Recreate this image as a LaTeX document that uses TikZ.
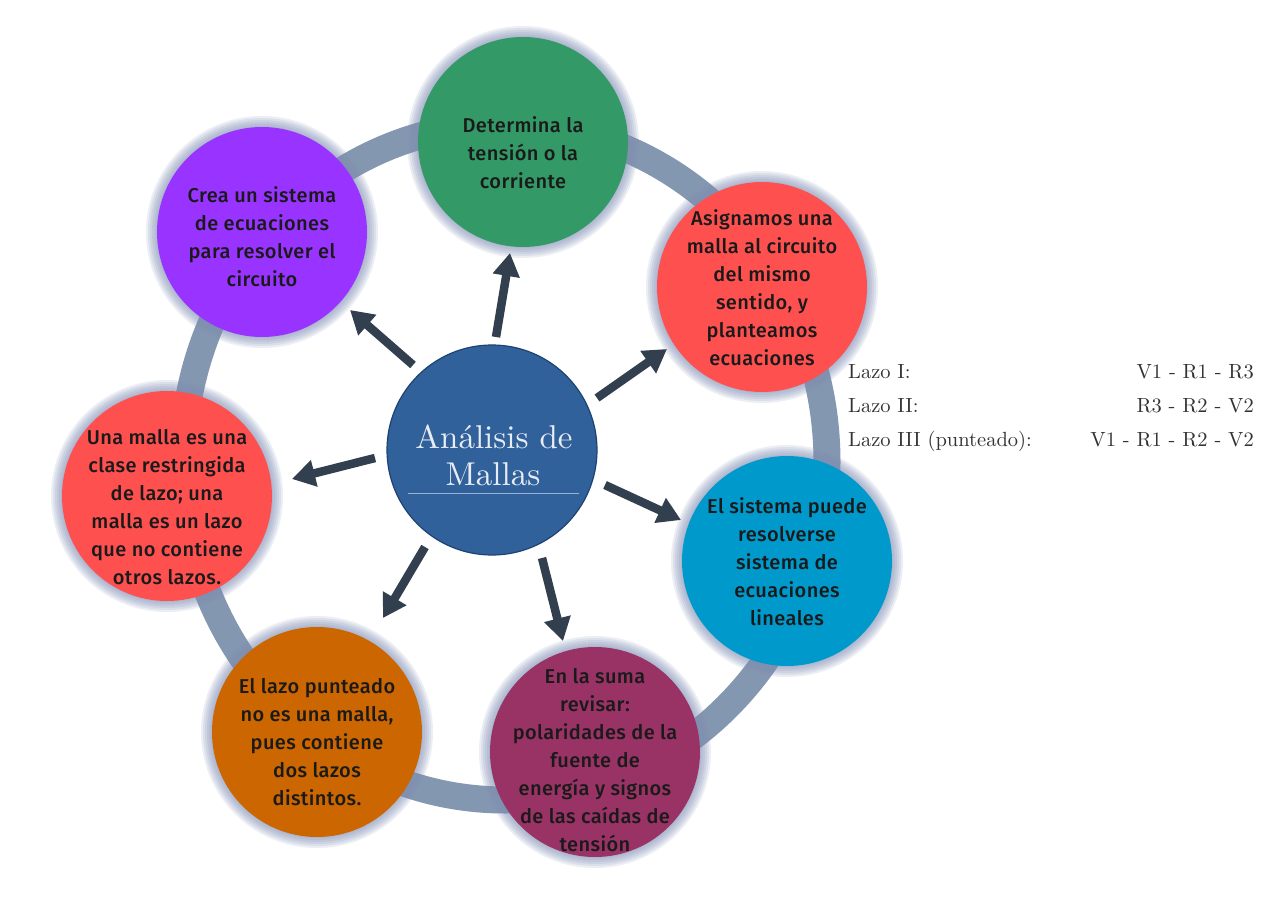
\documentclass[tikz,border=0pt]{standalone}
\usepackage{fontspec}
\newfontfamily\bubfont{Fira Sans Medium}[LetterSpace=2]
\newfontfamily\serfont{lmroman10-regular.otf}
\usetikzlibrary{arrows.meta,calc}
\definecolor{ringc}{HTML}{8497B0}
\definecolor{haloc}{HTML}{7F8DB5}
\definecolor{arrc}{HTML}{323F4F}
\definecolor{cgreen}{HTML}{339966}
\definecolor{cpurple}{HTML}{9933FF}
\definecolor{cred}{HTML}{FF5050}
\definecolor{cblue}{HTML}{0099CC}
\definecolor{corange}{HTML}{CC6600}
\definecolor{cmaroon}{HTML}{993366}
\definecolor{cin}{HTML}{30619A}
\definecolor{cmid}{HTML}{2A5690}
\definecolor{cout}{HTML}{1E4272}
\definecolor{ctxt}{HTML}{E8ECF4}
\definecolor{cline}{HTML}{9DB3D3}
\definecolor{btxt}{HTML}{1A1A1A}
\definecolor{ltxt}{HTML}{333333}
\pgfdeclareradialshading{cshade}{\pgfpoint{0bp}{0bp}}{color(0bp)=(cin); color(40bp)=(cin); color(47bp)=(cmid); color(50bp)=(cout)}
\tikzset{
  bubble/.style={circle, minimum size=210pt, inner sep=0pt, fill=#1},
  bubtext/.style={align=center, inner sep=0pt, text=btxt, font=\bubfont\fontsize{20}{28}\selectfont},
  arr/.style={draw=arrc, line width=8.5pt, -{Triangle[length=23pt, width=26pt]}},
  ctext/.style={text=ctxt, inner sep=0pt, font=\serfont\fontsize{33}{37}\selectfont},
  ltext/.style={text=ltxt, inner sep=0pt, font=\serfont\fontsize{20.5}{24}\selectfont},
}
\begin{document}
\begin{tikzpicture}[x=1pt,y=-1pt]
\useasboundingbox (0,0) rectangle (1280,905);
\fill[white] (0,0) rectangle (1280,905);
% ring
\draw[ringc, line width=27pt] (505,462) ellipse [x radius=322pt, y radius=338pt];
% positions
\coordinate (pg) at (523,142);
\coordinate (pp) at (262,232);
\coordinate (prr) at (762,287);
\coordinate (prl) at (167,496);
\coordinate (pb) at (787,561);
\coordinate (po) at (317,732);
\coordinate (pm) at (595,752);
% halos
\foreach \n in {pg,pp,prr,prl,pb,po,pm}{
  \foreach \i in {1,...,6}{
    \fill[haloc, opacity=0.15] (\n) circle [radius={104pt+2pt*\i}];
  }
}
% bubbles
\node[bubble=cgreen] (g) at (pg) {};
\node[bubble=cpurple] (p) at (pp) {};
\node[bubble=cred] (rr) at (prr) {};
\node[bubble=cred] (rl) at (prl) {};
\node[bubble=cblue] (b) at (pb) {};
\node[bubble=corange] (o) at (po) {};
\node[bubble=cmaroon] (m) at (pm) {};
% bubble texts
\node[bubtext] (gt) at ($(g)+(0,11)$) {Determina la\\tensión o la\\corriente};
\node[bubtext] (pt) at ($(p)+(0,5)$) {Crea un sistema\\de ecuaciones\\para resolver el\\circuito};
\node[bubtext] (rrt) at ($(rr)+(0,1)$) {Asignamos una\\malla al circuito\\del mismo\\sentido, y\\planteamos\\ecuaciones};
\node[bubtext] (rlt) at ($(rl)+(0,11)$) {Una malla es una\\clase restringida\\de lazo; una\\malla es un lazo\\que no contiene\\otros lazos.};
\node[bubtext] (bt) at ($(b)+(0,1)$) {El sistema puede\\resolverse\\sistema de\\ecuaciones\\lineales};
\node[bubtext] (ot) at ($(o)+(0,10)$) {El lazo punteado\\no es una malla,\\pues contiene\\dos lazos\\distintos.};
\node[bubtext] (mt) at ($(m)+(0,8)$) {En la suma\\revisar:\\polaridades de la\\fuente de\\energía y signos\\de las caídas de\\tensión};
% central
\node[circle, minimum size=210pt, inner sep=0pt, shading=cshade, draw=cout, line width=1.2pt] (c) at (492,450) {};
\node[ctext, anchor=base] (c1) at (494,448) {Análisis de};
\node[ctext, anchor=base] (c2) at (493,485) {Mallas};
\draw[cline, line width=1pt] ($(c)+(-84,43)$) -- ($(c)+(87,43)$);
% arrows
\coordinate (t1) at (496,337); \coordinate (h1) at (510,253);
\coordinate (t2) at (413,365); \coordinate (h2) at (350,310);
\coordinate (t3) at (597,398); \coordinate (h3) at (667,349);
\coordinate (t4) at (375,458); \coordinate (h4) at (292,479);
\coordinate (t5) at (605,485); \coordinate (h5) at (681,520);
\coordinate (t6) at (425,547); \coordinate (h6) at (383,618);
\coordinate (t7) at (542,558); \coordinate (h7) at (563,641);
\foreach \k in {1,...,7}{ \draw[arr] (t\k) -- (h\k); }
% right table
\node[ltext, anchor=base west] (l1) at (848,378) {Lazo I:};
\node[ltext, anchor=base west] (l2) at (848,412) {Lazo II:};
\node[ltext, anchor=base west] (l3) at (848,446) {Lazo III (punteado):};
\node[ltext, anchor=base east] (v1) at (1254,378) {V1 - R1 - R3};
\node[ltext, anchor=base east] (v2) at (1254,412) {R3 - R2 - V2};
\node[ltext, anchor=base east] (v3) at (1254,446) {V1 - R1 - R2 - V2};
\end{tikzpicture}
\end{document}
